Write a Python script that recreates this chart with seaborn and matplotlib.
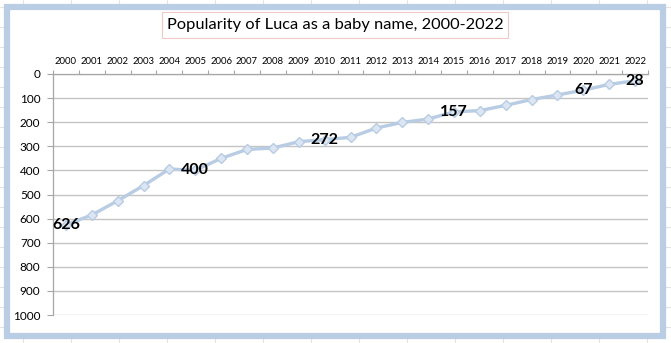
import matplotlib
matplotlib.use("Agg")
import matplotlib.pyplot as plt
import seaborn as sns
import pandas as pd
from matplotlib.patches import Rectangle
from matplotlib.lines import Line2D

years = [str(y) for y in range(2000, 2023)]
ranks = [626, 585, 526, 463, 394, 400, 350, 313, 307, 281, 272, 263,
         224, 201, 187, 157, 152, 130, 106, 87, 67, 43, 28]
labeled_years = ["2000", "2005", "2010", "2015", "2020", "2022"]
y_ticks = [0, 100, 200, 300, 400, 500, 600, 700, 800, 900, 1000]
title = "Popularity of Luca as a baby name, 2000-2022"

df = pd.DataFrame({"year": years, "rank": ranks})

sns.set_theme(style="white")
plt.rcParams["font.family"] = ["Lato", "DejaVu Sans"]

W, H = 671, 343
fig = plt.figure(figsize=(W / 100, H / 100), dpi=100)
fig.patch.set_facecolor("white")

def fx(x):
    return x / W

def fy(y):
    return 1 - y / H

# faint spreadsheet grid behind the chart object
for x in range(23, W, 48):
    fig.add_artist(Line2D([fx(x), fx(x)], [0, 1], transform=fig.transFigure,
                          color="#e3e3e3", lw=0.8, zorder=0))
for y in range(7, H, 20):
    fig.add_artist(Line2D([0, 1], [fy(y), fy(y)], transform=fig.transFigure,
                          color="#e3e3e3", lw=0.8, zorder=0))

# chart frame
fig.add_artist(Rectangle((fx(6.5), fy(335.5)), fx(656), 329 / H,
                         transform=fig.transFigure, facecolor="white",
                         edgecolor="#b9cde5", lw=4.5, zorder=1))

# title box
fig.add_artist(Rectangle((fx(162), fy(38)), fx(346), 26 / H,
                         transform=fig.transFigure, facecolor="white",
                         edgecolor="#f0c8c8", lw=0.8, zorder=2))
fig.text(fx(335), fy(25.5), title, ha="center", va="center", fontsize=11.8,
         color="black", zorder=3)

ax = fig.add_axes([fx(53), fy(315), fx(648) - fx(53), fy(74) - fy(315)])
ax.set_zorder(5)
ax.patch.set_alpha(0)

sns.lineplot(data=df, x="year", y="rank", ax=ax, color="#b8cce4", lw=2.4,
             marker="D", markersize=5, markerfacecolor="#dce6f2",
             markeredgecolor="#b8cce4", markeredgewidth=1, sort=False)

ax.set_ylim(1000, 0)
ax.set_xlim(-0.5, len(years) - 0.5)
ax.set_yticks(y_ticks)
ax.set_yticklabels([str(t) for t in y_ticks], fontsize=8.5, color="black")
ax.yaxis.grid(True, color="#c4c4c4", lw=1)
ax.set_axisbelow(True)

ax.xaxis.tick_top()
ax.set_xticks(range(len(years)))
ax.set_xticklabels(years, fontsize=6.8, color="black")
ax.set_xticks([i - 0.5 for i in range(len(years) + 1)], minor=True)
ax.tick_params(axis="x", which="major", length=0, pad=6)
ax.tick_params(axis="x", which="minor", length=3, color="#a6a6a6", width=0.8,
               direction="out", top=True, bottom=False)
ax.tick_params(axis="y", length=4, color="#a6a6a6", width=0.8, left=True,
               pad=5)
ax.set_xlabel("")
ax.set_ylabel("")

for s in ["right", "bottom"]:
    ax.spines[s].set_visible(False)
for s in ["left", "top"]:
    ax.spines[s].set_color("#a6a6a6")
    ax.spines[s].set_linewidth(0.9)

for yr, rk in zip(years, ranks):
    if yr in labeled_years:
        ax.text(years.index(yr), rk, str(rk), ha="center", va="center",
                fontsize=11.5, fontweight="bold", color="black", zorder=10)

fig.savefig("out.png", dpi=100)
